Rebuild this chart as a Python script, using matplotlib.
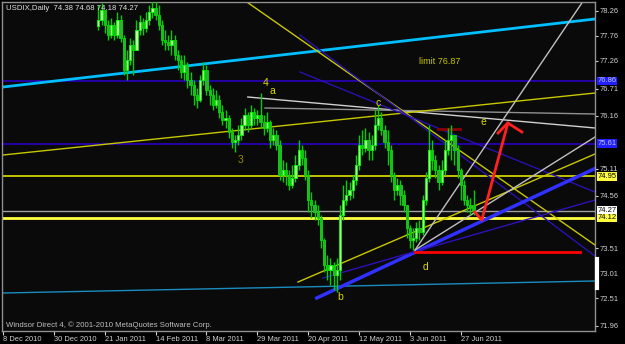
import numpy as np
import matplotlib.pyplot as plt

plt.rcParams['font.family'] = ['Liberation Sans', 'DejaVu Sans']

# daily bars (bar index 30..148), prices
closes = [78.08, 78.28, 77.98, 77.78, 77.98, 77.78, 78.08, 77.72, 77.08, 77.28,
          77.58, 77.48, 77.88, 78.04, 77.92, 78.08, 78.24, 78.32, 78.18, 77.98,
          77.68, 77.64, 77.58, 77.68, 77.38, 77.28, 77.04, 77.18, 76.88, 76.78,
          76.58, 76.48, 76.88, 77.08, 76.68, 76.58, 76.38, 76.48, 76.24, 76.08,
          76.12, 75.84, 75.64, 75.68, 75.78, 75.98, 76.18, 75.98, 76.24, 76.12,
          76.18, 76.04, 75.92, 76.04, 75.68, 75.78, 75.58, 74.98, 75.08, 74.98,
          74.78, 74.92, 75.18, 75.48, 75.32, 74.98, 74.48, 74.38, 74.24, 74.12,
          73.68, 73.18, 73.08, 73.18, 72.98, 73.08, 74.18, 74.48, 74.58, 74.68,
          74.88, 75.18, 75.58, 75.52, 75.68, 75.48, 75.58, 75.98, 76.12, 75.88,
          75.64, 75.48, 74.98, 74.68, 74.78, 74.58, 74.38, 73.92, 73.68, 73.72,
          73.92, 73.84, 74.48, 74.92, 75.48, 75.28, 75.08, 74.84, 75.08, 75.48,
          75.68, 75.78, 75.48, 75.08, 74.78, 74.48, 74.38, 74.32, 74.27]
highs = [78.38, 78.42, 78.18, 78.08, 78.12, 78.04, 78.24, 78.18, 77.78, 77.48,
         77.72, 77.68, 78.08, 78.18, 78.12, 78.24, 78.38, 78.48, 78.58, 78.38,
         78.08, 77.88, 77.78, 77.88, 77.78, 77.48, 77.38, 77.38, 77.24, 77.04,
         76.88, 76.72, 76.98, 77.24, 77.18, 76.78, 76.72, 76.68, 76.58, 76.38,
         76.28, 76.18, 75.92, 75.78, 75.98, 76.12, 76.32, 76.24, 76.38, 76.32,
         76.28, 76.62, 76.18, 76.24, 76.08, 75.92, 75.88, 75.68, 75.28, 75.24,
         75.08, 75.18, 75.38, 75.68, 75.58, 75.48, 75.08, 74.64, 74.48, 74.38,
         74.18, 73.72, 73.38, 73.32, 73.24, 73.32, 74.38, 74.78, 74.88, 74.84,
         74.98, 75.38, 75.78, 75.88, 75.92, 75.84, 75.78, 76.28, 76.38, 76.24,
         75.98, 75.88, 75.58, 75.04, 74.92, 74.88, 74.68, 74.38, 73.98, 73.92,
         74.04, 74.08, 74.58, 75.04, 75.98, 75.68, 75.38, 75.18, 75.28, 75.68,
         75.92, 75.98, 75.78, 75.58, 75.12, 74.88, 74.58, 74.52, 74.68]
lows = [77.88, 77.98, 77.82, 77.68, 77.72, 77.68, 77.72, 77.64, 76.98, 76.88,
        77.18, 76.98, 77.48, 77.78, 77.78, 77.84, 77.98, 78.12, 78.08, 77.88,
        77.58, 77.48, 77.48, 77.38, 77.28, 77.08, 76.92, 76.88, 76.72, 76.58,
        76.38, 76.32, 76.44, 76.78, 76.58, 76.38, 76.28, 76.32, 76.12, 75.98,
        75.92, 75.72, 75.52, 75.44, 75.58, 75.68, 75.88, 75.84, 75.92, 75.98,
        75.98, 75.92, 75.78, 75.84, 75.52, 75.58, 75.48, 74.88, 74.84, 74.78,
        74.68, 74.72, 74.84, 75.08, 75.18, 74.88, 74.24, 74.12, 74.08, 73.98,
        73.52, 73.04, 72.88, 72.78, 72.68, 72.64, 72.88, 74.08, 74.38, 74.48,
        74.52, 74.78, 75.08, 75.38, 75.44, 75.28, 75.28, 75.48, 75.88, 75.78,
        75.52, 75.18, 74.84, 74.48, 74.58, 74.38, 74.24, 73.72, 73.52, 73.48,
        73.64, 73.68, 73.78, 74.38, 74.84, 75.08, 74.92, 74.68, 74.78, 74.98,
        75.38, 75.28, 75.18, 74.92, 74.48, 74.38, 74.24, 74.18, 74.18]
first_open = 77.95
last_open = 74.38
first_bar = 30

date_ticks = [0, 16, 32, 48, 64, 80, 96, 112, 128, 144]
date_labels = ['8 Dec 2010', '30 Dec 2010', '21 Jan 2011', '14 Feb 2011', '8 Mar 2011',
               '29 Mar 2011', '20 Apr 2011', '12 May 2011', '3 Jun 2011', '27 Jun 2011']
price_ticks = [78.26, 77.76, 77.26, 76.71, 76.16, 75.11, 74.56, 73.51, 73.01, 72.51, 71.96]

# trendlines: (bar0, price0, bar1, price1, colour, width)
trendlines = [
    (0, 76.74, 186.2, 78.10, '#00bfff', 2.0),
    (0, 72.62, 186.2, 72.86, '#1a8cc0', 1.0),
    (77, 76.54, 186.2, 75.92, '#d0d0d0', 1.0),
    (82.4, 76.32, 186.2, 76.20, '#909090', 1.0),
    (0, 75.38, 186.2, 76.62, '#c8c800', 1.0),
    (75.8, 78.48, 186.2, 73.58, '#c8c800', 1.0),
    (93.4, 77.04, 186.2, 74.64, '#2a10b0', 1.0),
    (93.4, 77.78, 186.2, 73.36, '#2a10b0', 1.0),
    (98.7, 72.52, 186.2, 75.11, '#3030ff', 2.5),
    (100.6, 72.92, 186.2, 74.48, '#3010b8', 1.0),
    (92.8, 72.84, 186.2, 75.40, '#c8c800', 1.0),
    (129.6, 73.48, 182.7, 78.48, '#c0c0c0', 1.0),
    (129.6, 73.48, 186.2, 75.74, '#c0c0c0', 1.0),
    (129.6, 73.44, 181.4, 73.44, '#ff0000', 2.0),
    (136.8, 75.90, 143.7, 75.90, '#8b0000', 2.0),
]
hlines = [(76.86, '#2a00c0', 1.2), (75.61, '#2a00c0', 1.2), (74.95, '#e0e000', 1.2),
          (74.27, '#a0a0a0', 1.0), (74.12, '#ffff40', 2.0)]
arrow_x = [148.4, 150.6, 158.8]
arrow_y = [74.24, 74.08, 76.02]
wing_x = [155.7, 158.8, 163.2]
wing_y = [75.82, 76.02, 75.84]
wave_labels = [('4', 82.5, 76.82, '#d8d800'), ('a', 84.7, 76.66, '#d8d800'),
               ('3', 74.8, 75.28, '#909000'), ('c', 118.0, 76.42, '#d8d800'),
               ('b', 106.0, 72.54, '#d8d800'), ('d', 133.0, 73.14, '#d8d800'),
               ('e', 151.0, 76.04, '#d8d800')]
price_boxes = [(76.86, '#2020ff', '#c0c0ff'), (75.61, '#2020ff', '#c0c0ff'),
               (74.95, '#ffff40', 'black'), (74.27, 'white', 'black'),
               (74.12, '#ffff40', 'black')]

bg = '#0a0a0a'
fig = plt.figure(figsize=(6.25, 3.44), dpi=100, facecolor='black')
ax = fig.add_axes([2 / 625, 13 / 344, 593 / 625, 329 / 344], facecolor=bg)
ax.set_xlim(-0.3, 186.2)
ax.set_ylim(71.86, 78.44)

for y, c, lw in hlines:
    ax.axhline(y, color=c, lw=lw, zorder=2)
for x0, y0, x1, y1, c, lw in trendlines:
    ax.plot([x0, x1], [y0, y1], color=c, lw=lw, zorder=2)

closes = np.array(closes)
highs = np.array(highs)
lows = np.array(lows)
opens = np.r_[first_open, closes[:-1]]
opens[-1] = last_open
xs = np.arange(first_bar, first_bar + len(closes))
up = closes >= opens
ax.vlines(xs, lows, highs, color='#00d000', lw=1.0, zorder=3)
ax.bar(xs[up], closes[up] - opens[up], bottom=opens[up], width=0.7,
       color='#b8ff98', edgecolor='#00ff00', lw=0.6, zorder=4)
ax.bar(xs[~up], opens[~up] - closes[~up], bottom=closes[~up], width=0.7,
       color='#30b030', edgecolor='#00e000', lw=0.6, zorder=4)

ax.plot(arrow_x, arrow_y, color='#ff2020', lw=2, zorder=5)
ax.plot(wing_x, wing_y, color='#ff2020', lw=2, zorder=5)

for s, x, y, c in wave_labels:
    ax.text(x, y, s, color=c, fontsize=7.5, ha='center', va='center', zorder=6)
ax.text(131, 77.25, 'limit 76.87', color='#c8c800', fontsize=6.5, va='center')
ax.text(1, 78.32, 'USDIX,Daily  74.38 74.68 74.18 74.27', color='#e0e0e0',
        fontsize=5.6, va='center')
ax.text(1, 71.98, 'Windsor Direct 4, \u00a9 2001-2010 MetaQuotes Software Corp.',
        color='#c0c0c0', fontsize=5.6, va='center')

ax.plot([186.7, 186.7], [73.30, 72.72], color='white', lw=3, clip_on=False, zorder=7)

for sp in ax.spines.values():
    sp.set_color('#909090')
    sp.set_linewidth(1)

ax.yaxis.tick_right()
ax.set_yticks(price_ticks)
ax.set_yticklabels([f'{p:.2f}' for p in price_ticks])
ax.tick_params(axis='y', colors='#d0d0d0', labelsize=5.5, length=2, pad=1,
               direction='out')
ax.set_xticks(date_ticks)
ax.set_xticklabels(date_labels, ha='left')
ax.tick_params(axis='x', colors='#d0d0d0', labelsize=5.4, length=3, pad=0.5,
               direction='out')

for y, fc, tc in price_boxes:
    ax.text(187.0, y, f'{y:.2f}', color=tc, fontsize=5.5, va='center', ha='left',
            clip_on=False, zorder=8,
            bbox=dict(boxstyle='square,pad=0.1', fc=fc, ec='none'))

fig.savefig('out.png', dpi=100, facecolor='black')
